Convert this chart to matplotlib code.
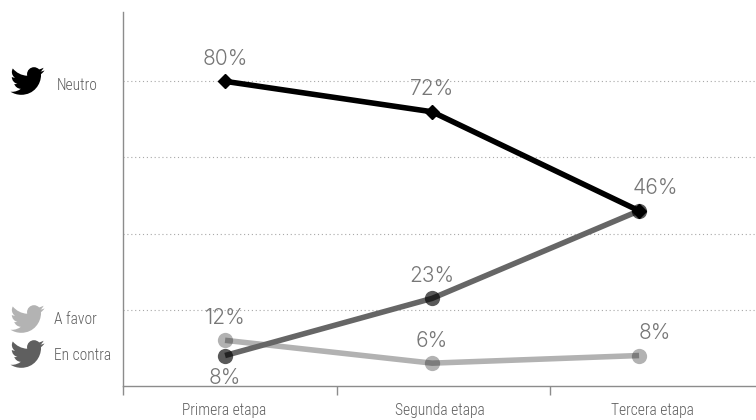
import matplotlib
matplotlib.use("Agg")
import matplotlib.pyplot as plt
from matplotlib.path import Path
from matplotlib.patches import PathPatch
from matplotlib.transforms import Affine2D

etapas = ["Primera etapa", "Segunda etapa", "Tercera etapa"]
neutro = [80, 72, 46]
en_contra = [8, 23, 46]
a_favor = [12, 6, 8]
neutro_labels = ["80%", "72%", "46%"]
en_contra_labels = ["8%", "23%", ""]
a_favor_labels = ["12%", "6%", "8%"]
grid_values = [20, 40, 60, 80]
icon_labels = ["Neutro", "A favor", "En contra"]

NARROW = ["Roboto Condensed", "DejaVu Sans"]
LABEL_FONT = ["Inter", "DejaVu Sans"]

# twitter bird outline on a 24x24 box, y pointing down
bird_verts = [
    (23.953, 4.57),
    (23.05, 4.97), (22.1, 5.23), (21.128, 5.345),
    (22.2, 4.7), (22.95, 3.7), (23.291, 2.622),
    (22.34, 3.177), (21.286, 3.581), (20.164, 3.806),
    (19.27, 2.85), (18.0, 2.25), (16.6, 2.25),
    (13.88, 2.25), (11.68, 4.45), (11.68, 7.17),
    (11.68, 7.55), (11.72, 7.93), (11.8, 8.288),
    (7.69, 8.095), (4.067, 6.13), (1.64, 3.162),
    (1.21, 3.89), (.974, 4.74), (.974, 5.637),
    (.974, 7.347), (1.844, 8.85), (3.162, 9.733),
    (2.36, 9.71), (1.6, 9.49), (.934, 9.117),
    (.934, 11.56), (2.63, 13.55), (4.88, 14.004),
    (4.16, 14.2), (3.4, 14.23), (2.668, 14.089),
    (3.3, 16.05), (5.12, 17.46), (7.272, 17.506),
    (5.59, 18.82), (3.47, 19.61), (1.17, 19.611),
    (.78, 19.611), (.391, 19.588), (0, 19.544),
    (2.18, 20.94), (4.77, 21.753), (7.557, 21.753),
    (16.61, 21.753), (21.555, 14.257), (21.555, 7.768),
    (21.555, 7.558), (21.555, 7.348), (21.54, 7.138),
    (22.5, 6.44), (23.33, 5.57), (24, 4.59),
    (23.953, 4.57),
]
bird_codes = [Path.MOVETO] + [Path.CURVE4] * (len(bird_verts) - 2) + [Path.LINETO]
bird = Path(bird_verts, bird_codes)

fig = plt.figure(figsize=(7.56, 4.2), dpi=100)
fig.patch.set_facecolor("white")

ax = fig.add_axes([123 / 756, 1 - 386 / 420, 633 / 756, 374 / 420])
x = list(range(len(etapas)))
ax.set_xlim(-0.493, 2.565)
ax.set_ylim(0, 98.2)

for v in grid_values:
    ax.axhline(v, color="#a8a8a8", lw=0.8, ls=(0, (1, 2.5)), zorder=1)

# lines and markers are translucent so the line shows darker across its marker
ax.plot(x, a_favor, color="black", alpha=0.3, lw=4, zorder=3, solid_capstyle="butt")
ax.plot(x, a_favor, ls="none", marker="o", ms=11, mfc="black", mec="none", alpha=0.3, zorder=3)
ax.plot(x, en_contra, color="#666666", lw=4, zorder=4, solid_capstyle="butt")
ax.plot(x, en_contra, ls="none", marker="o", ms=11, mfc="black", mec="none", alpha=0.65, zorder=4)
ax.plot(x, neutro, color="black", lw=4, marker="D", ms=7, mfc="black", mec="black", zorder=5)


def value_label(i, y, text, offset=9):
    va = "bottom" if offset > 0 else "top"
    # labels of the last stage sit to the right of the point
    dx = 11.5 if i == 2 else 0
    ax.annotate(text, (i, y), xytext=(dx, offset), textcoords="offset points", ha="center", va=va,
                fontsize=15, color="#777777", family=LABEL_FONT, fontweight=300)


for i in x:
    value_label(i, neutro[i], neutro_labels[i])
    value_label(i, a_favor[i], a_favor_labels[i])
    if en_contra_labels[i]:
        # the first en contra label sits below its point
        value_label(i, en_contra[i], en_contra_labels[i], offset=-9 if i == 0 else 9)

for s in ["top", "right"]:
    ax.spines[s].set_visible(False)
for s in ["left", "bottom"]:
    ax.spines[s].set_color("#8c8c8c")
    ax.spines[s].set_linewidth(1)
ax.set_yticks([])
ax.set_xticks([-0.493, 0.54, 1.57])
ax.set_xticklabels([])
ax.tick_params(axis="x", length=6.5, width=1, color="#8c8c8c")

# overlay in pixel coordinates for the icons and band labels
over = fig.add_axes([0, 0, 1, 1], facecolor="none")
over.set_xlim(0, 756)
over.set_ylim(420, 0)
over.axis("off")

icon_y = [81, 319, 354]
icon_text_x = [57, 54, 54]
icon_text_y = [85, 320, 356]
icon_colors = ["black", "#b3b3b3", "#5f5f5f"]
for name, cy, tx, ty, c in zip(icon_labels, icon_y, icon_text_x, icon_text_y, icon_colors):
    tr = Affine2D().translate(-12, -12).scale(34 / 24).translate(27.5, cy) + over.transData
    over.add_patch(PathPatch(bird, facecolor=c, edgecolor="none", transform=tr))
    over.text(tx, ty, name, ha="left", va="center", fontsize=11.2, color="#5e5e5e", family=NARROW, fontweight=300)

for name, px in zip(etapas, [224, 440, 652]):
    over.text(px, 411, name, ha="center", va="center", fontsize=11.2, color="#5e5e5e", family=NARROW, fontweight=300)

fig.savefig("out.png", dpi=100)
plt.close("all")
